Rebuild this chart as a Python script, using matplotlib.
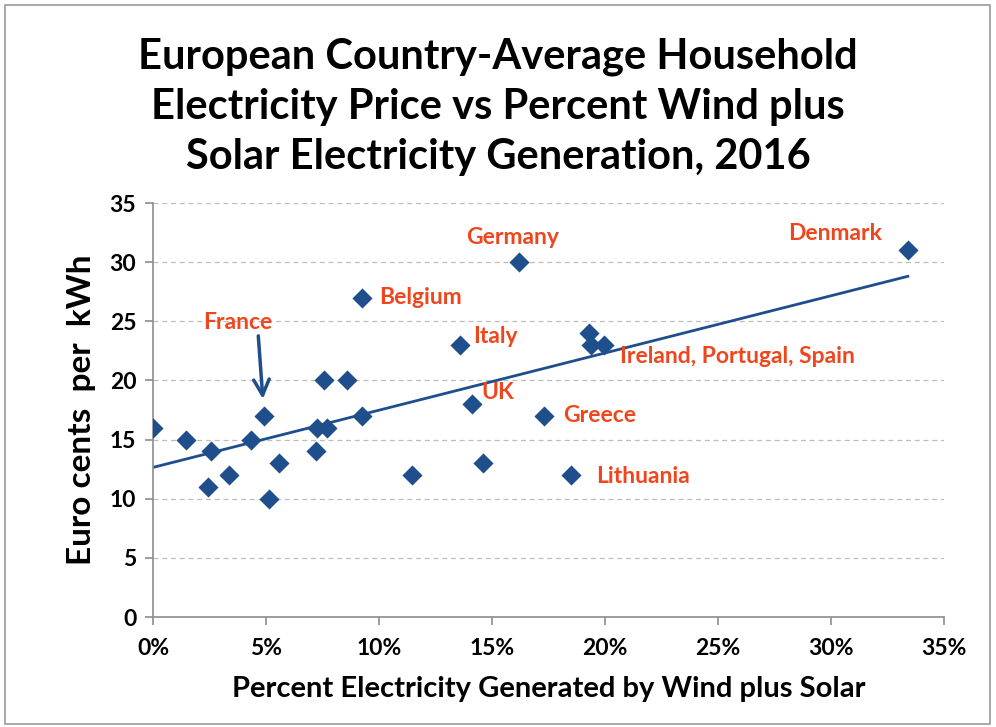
import matplotlib
matplotlib.use('Agg')
import numpy as np
import matplotlib.pyplot as plt
from matplotlib.patches import Rectangle
from matplotlib.ticker import FuncFormatter

# data: share of wind+solar (%) and price (euro cents/kWh)
pct_wind_solar = [0.0, 1.45, 2.56, 2.45, 3.37, 4.33, 4.92, 5.15, 5.58, 7.2, 7.25,
                  7.55, 7.7, 8.6, 9.23, 9.23, 11.45, 13.58, 14.1, 14.6, 16.2,
                  17.3, 18.5, 19.3, 19.4, 19.96, 33.4]
price = [16, 15, 14, 11, 12, 15, 17, 10, 13, 14, 16,
         20, 16, 20, 27, 17, 12, 23, 18, 13, 30,
         17, 12, 24, 23, 23, 31]

label_names = ['France', 'Belgium', 'Germany', 'Italy', 'Ireland, Portugal, Spain',
               'UK', 'Greece', 'Lithuania', 'Denmark']
label_x = [3.75, 10.0, 15.9, 14.15, 20.66, 14.54, 18.15, 19.6, 30.2]
label_y = [24.9, 27.0, 32.05, 23.7, 22.0, 19.0, 17.07, 11.92, 32.4]
label_ha = ['center', 'left', 'center', 'left', 'left', 'left', 'left', 'left', 'center']

fam = ['Lato', 'DejaVu Sans']
blue = '#1F4E8C'
red = '#F0461E'

fig = plt.figure(figsize=(9.96, 7.27), dpi=100)
ax = fig.add_axes([153/996, 1 - 617/727, (944 - 153)/996, (617 - 203)/727])

# grid
for yv in range(5, 36, 5):
    ax.axhline(yv, color='#BDBDBD', linestyle=(0, (4, 3)), linewidth=0.9, zorder=0)

# trend line from a least-squares fit
coef = np.polyfit(pct_wind_solar, price, 1)
xs = np.array([0, max(pct_wind_solar)])
ax.plot(xs, np.polyval(coef, xs), color=blue, linewidth=2, zorder=2)

ax.scatter(pct_wind_solar, price, marker='D', s=105, color=blue, zorder=3, linewidths=0)

for name, tx, ty, ha in zip(label_names, label_x, label_y, label_ha):
    ax.text(tx, ty, name, color=red, fontsize=16.5, fontweight='bold', family=fam,
            ha=ha, va='center')

# arrow to France
ax.annotate('', xy=(4.87, 18.2), xytext=(4.65, 24.0),
            arrowprops=dict(arrowstyle='->', color=blue, lw=2.5, mutation_scale=28))

ax.set_xlim(0, 35)
ax.set_ylim(0, 35)
ax.set_xticks(range(0, 36, 5))
ax.set_yticks(range(0, 36, 5))
ax.xaxis.set_major_formatter(FuncFormatter(lambda v, p: f'{int(v)}%'))

for s in ['top', 'right']:
    ax.spines[s].set_visible(False)
for s in ['left', 'bottom']:
    ax.spines[s].set_color('#8C8C8C')
    ax.spines[s].set_linewidth(1.2)
ax.tick_params(axis='both', color='#8C8C8C', length=6, width=1.2, labelsize=16.5)
ax.tick_params(axis='x', pad=9)
ax.tick_params(axis='y', pad=6)
for lab in ax.get_xticklabels() + ax.get_yticklabels():
    lab.set_fontweight('bold')
    lab.set_family(fam)

ax.set_xlabel('Percent Electricity Generated by Wind plus Solar', fontsize=21,
              fontweight='bold', family=fam, labelpad=12)
ax.set_ylabel('Euro cents  per  kWh', fontsize=24, fontweight='bold', family=fam,
              labelpad=10)

fig.text(0.5, 1 - 107/727, 'European Country-Average Household\nElectricity Price vs Percent Wind plus\nSolar Electricity Generation, 2016',
         ha='center', va='center', fontsize=30, fontweight='bold', family=fam,
         linespacing=1.38)

fig.patches.append(Rectangle((5/996, 3/727), 985/996, 719/727, transform=fig.transFigure,
                             fill=False, edgecolor='#9A9A9A', linewidth=1.2))

plt.savefig('out.png', dpi=100)
